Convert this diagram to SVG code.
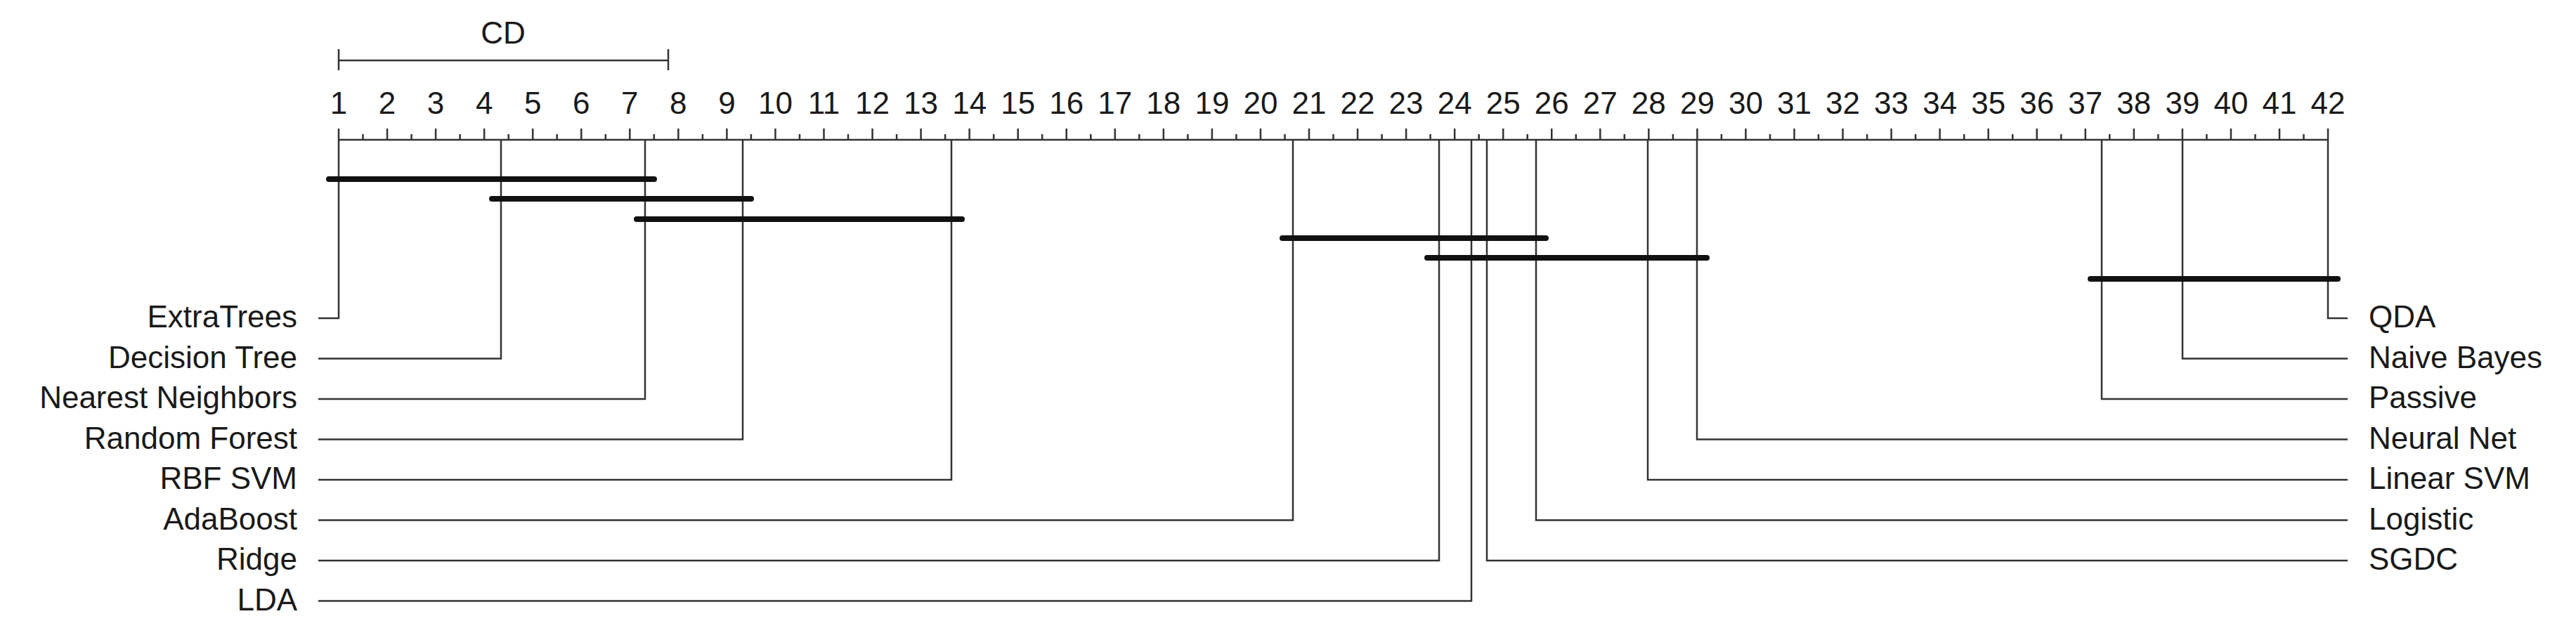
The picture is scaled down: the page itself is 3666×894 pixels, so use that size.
<svg xmlns="http://www.w3.org/2000/svg" width="3666" height="894" viewBox="0 0 3666 894">
<style>
text{font-family:"Liberation Sans",Arial,sans-serif;font-size:44px;fill:#1a1a1a}
.t{text-anchor:middle}
.l{text-anchor:end}
.ln{stroke:#333;stroke-width:2.5;fill:none}
.bar{stroke:#111;stroke-width:8;stroke-linecap:round}
</style>
<rect width="3666" height="894" fill="#fff"/>
<g id="cd">
<text class="t" x="716" y="62">CD</text>
<path class="ln" d="M482 86H951M482 70V100M951 70V100"/>
</g>
<g id="axis">
<path class="ln" d="M482 199H3313"/>
<path class="ln" d="M482.00 183V199M551.05 183V199M620.10 183V199M689.15 183V199M758.20 183V199M827.25 183V199M896.30 183V199M965.35 183V199M1034.40 183V199M1103.45 183V199M1172.50 183V199M1241.55 183V199M1310.60 183V199M1379.65 183V199M1448.70 183V199M1517.75 183V199M1586.80 183V199M1655.85 183V199M1724.90 183V199M1793.95 183V199M1863.00 183V199M1932.05 183V199M2001.10 183V199M2070.15 183V199M2139.20 183V199M2208.25 183V199M2277.30 183V199M2346.35 183V199M2415.40 183V199M2484.45 183V199M2553.50 183V199M2622.55 183V199M2691.60 183V199M2760.65 183V199M2829.70 183V199M2898.75 183V199M2967.80 183V199M3036.85 183V199M3105.90 183V199M3174.95 183V199M3244.00 183V199M3313.05 183V199"/>
<path class="ln" d="M516.5 191V199M585.6 191V199M654.6 191V199M723.7 191V199M792.7 191V199M861.8 191V199M930.8 191V199M999.9 191V199M1068.9 191V199M1138.0 191V199M1207.0 191V199M1276.1 191V199M1345.1 191V199M1414.2 191V199M1483.2 191V199M1552.3 191V199M1621.3 191V199M1690.4 191V199M1759.4 191V199M1828.5 191V199M1897.5 191V199M1966.6 191V199M2035.6 191V199M2104.7 191V199M2173.7 191V199M2242.8 191V199M2311.8 191V199M2380.9 191V199M2449.9 191V199M2519.0 191V199M2588.0 191V199M2657.1 191V199M2726.1 191V199M2795.2 191V199M2864.2 191V199M2933.3 191V199M3002.3 191V199M3071.4 191V199M3140.4 191V199M3209.5 191V199M3278.5 191V199"/>
<text class="t" x="482.00" y="162">1</text><text class="t" x="551.05" y="162">2</text><text class="t" x="620.10" y="162">3</text><text class="t" x="689.15" y="162">4</text><text class="t" x="758.20" y="162">5</text><text class="t" x="827.25" y="162">6</text><text class="t" x="896.30" y="162">7</text><text class="t" x="965.35" y="162">8</text><text class="t" x="1034.40" y="162">9</text><text class="t" x="1103.45" y="162">10</text><text class="t" x="1172.50" y="162">11</text><text class="t" x="1241.55" y="162">12</text><text class="t" x="1310.60" y="162">13</text><text class="t" x="1379.65" y="162">14</text><text class="t" x="1448.70" y="162">15</text><text class="t" x="1517.75" y="162">16</text><text class="t" x="1586.80" y="162">17</text><text class="t" x="1655.85" y="162">18</text><text class="t" x="1724.90" y="162">19</text><text class="t" x="1793.95" y="162">20</text><text class="t" x="1863.00" y="162">21</text><text class="t" x="1932.05" y="162">22</text><text class="t" x="2001.10" y="162">23</text><text class="t" x="2070.15" y="162">24</text><text class="t" x="2139.20" y="162">25</text><text class="t" x="2208.25" y="162">26</text><text class="t" x="2277.30" y="162">27</text><text class="t" x="2346.35" y="162">28</text><text class="t" x="2415.40" y="162">29</text><text class="t" x="2484.45" y="162">30</text><text class="t" x="2553.50" y="162">31</text><text class="t" x="2622.55" y="162">32</text><text class="t" x="2691.60" y="162">33</text><text class="t" x="2760.65" y="162">34</text><text class="t" x="2829.70" y="162">35</text><text class="t" x="2898.75" y="162">36</text><text class="t" x="2967.80" y="162">37</text><text class="t" x="3036.85" y="162">38</text><text class="t" x="3105.90" y="162">39</text><text class="t" x="3174.95" y="162">40</text><text class="t" x="3244.00" y="162">41</text><text class="t" x="3313.05" y="162">42</text>
</g>
<g id="connectors">
<path class="ln" d="M482 199V453H453"/>
<path class="ln" d="M713 199V510.5H453"/>
<path class="ln" d="M918 199V568H453"/>
<path class="ln" d="M1057 199V625.5H453"/>
<path class="ln" d="M1354 199V683H453"/>
<path class="ln" d="M1840 199V740.5H453"/>
<path class="ln" d="M2048 199V798H453"/>
<path class="ln" d="M2094 199V855.5H453"/>
<path class="ln" d="M3313 199V453H3341"/>
<path class="ln" d="M3106 199V510.5H3341"/>
<path class="ln" d="M2991 199V568H3341"/>
<path class="ln" d="M2415 199V625.5H3341"/>
<path class="ln" d="M2345 199V683H3341"/>
<path class="ln" d="M2186 199V740.5H3341"/>
<path class="ln" d="M2116 199V798H3341"/>
</g>
<g id="cliques">
<path class="bar" d="M468 255H931"/>
<path class="bar" d="M700 283H1069"/>
<path class="bar" d="M906 312H1369"/>
<path class="bar" d="M1825 339H2200"/>
<path class="bar" d="M2031 367H2429"/>
<path class="bar" d="M2975 397H3327"/>
</g>
<g id="n-left">
<text class="l" x="423" y="466">ExtraTrees</text>
<text class="l" x="423" y="523.5">Decision Tree</text>
<text class="l" x="423" y="581">Nearest Neighbors</text>
<text class="l" x="423" y="638.5">Random Forest</text>
<text class="l" x="423" y="696">RBF SVM</text>
<text class="l" x="423" y="753.5">AdaBoost</text>
<text class="l" x="423" y="811">Ridge</text>
<text class="l" x="423" y="868.5">LDA</text>
</g>
<g id="n-right">
<text x="3371" y="466">QDA</text>
<text x="3371" y="523.5">Naive Bayes</text>
<text x="3371" y="581">Passive</text>
<text x="3371" y="638.5">Neural Net</text>
<text x="3371" y="696">Linear SVM</text>
<text x="3371" y="753.5">Logistic</text>
<text x="3371" y="811">SGDC</text>
</g>
</svg>
